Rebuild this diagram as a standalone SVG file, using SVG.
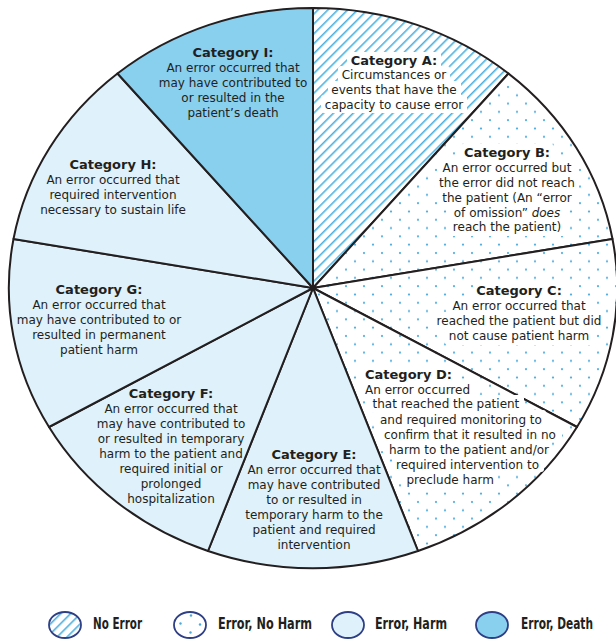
<svg xmlns="http://www.w3.org/2000/svg" width="616" height="641" viewBox="0 0 616 641">
<style>
.sec{stroke:#231f20;stroke-width:2;stroke-linejoin:round}
.t{font-family:'DejaVu Sans','Liberation Sans',sans-serif;font-size:12px;fill:#231f20;text-anchor:middle}
.l{text-anchor:start}
.h{font-weight:bold;font-size:13px}
.ko{fill:#ffffff}
.lg{font-family:'DejaVu Sans Condensed','DejaVu Sans',sans-serif;font-weight:bold;font-size:15px;fill:#231f20}
.lc{stroke:#2e3f86;stroke-width:1.8}
.harm{fill:#dff1fa}
.death{fill:#89cfee}
</style>
<defs>
<pattern id="hatch" patternUnits="userSpaceOnUse" width="7" height="7" patternTransform="rotate(45)">
<rect x="0" y="0" width="7" height="7" fill="#ffffff"/>
<rect x="0" y="0" width="1.6" height="7" fill="#4fb2e0"/>
</pattern>
<pattern id="dots" patternUnits="userSpaceOnUse" width="18" height="16.6">
<rect x="0" y="0" width="18" height="16.6" fill="#ffffff"/>
<circle cx="4" cy="4" r="1.1" fill="#4aaadd"/>
<circle cx="13" cy="12.3" r="1.1" fill="#4aaadd"/>
</pattern>
</defs>
<g id="pie">
<g id="catA">
<path class="sec" fill="url(#hatch)" d="M313,288 L313,8 A304,280 0 0 1 508.5,73.5 Z"/>
<rect class="ko" x="347" y="52" width="94" height="17" rx="3"/>
<rect class="ko" x="338" y="66" width="112" height="17" rx="3"/>
<rect class="ko" x="328" y="81" width="133" height="17" rx="3"/>
<rect class="ko" x="321" y="95" width="146" height="18" rx="3"/>
<text class="t h" x="394" y="65">Category A:</text>
<text class="t" x="394" y="79">Circumstances or</text>
<text class="t" x="394" y="94">events that have the</text>
<text class="t" x="394" y="108.5">capacity to cause error</text>
</g>
<g id="catB">
<path class="sec" fill="url(#dots)" d="M313,288 L508.5,73.5 A304,280 0 0 1 612.5,239 Z"/>
<rect class="ko" x="460" y="144" width="94" height="17" rx="3"/>
<rect class="ko" x="438" y="159" width="138" height="17" rx="3"/>
<rect class="ko" x="435" y="174" width="144" height="17" rx="3"/>
<rect class="ko" x="439" y="189" width="135" height="17" rx="3"/>
<rect class="ko" x="451" y="203" width="113" height="17" rx="3"/>
<rect class="ko" x="448" y="218" width="118" height="18" rx="3"/>
<text class="t h" x="507" y="157">Category B:</text>
<text class="t" x="507" y="172">An error occurred but</text>
<text class="t" x="507" y="187">the error did not reach</text>
<text class="t" x="507" y="202">the patient (An “error</text>
<text class="t" x="507" y="216.5">of omission” <tspan font-style="italic">does</tspan></text>
<text class="t" x="507" y="231">reach the patient)</text>
</g>
<g id="catC">
<path class="sec" fill="url(#dots)" d="M313,288 L612.5,239 A304,280 0 0 1 577,427 Z"/>
<rect class="ko" x="473" y="282" width="92" height="17" rx="3"/>
<rect class="ko" x="448" y="297" width="142" height="17" rx="3"/>
<rect class="ko" x="432" y="312" width="174" height="17" rx="3"/>
<rect class="ko" x="445" y="327" width="148" height="18" rx="3"/>
<text class="t h" x="519" y="295">Category C:</text>
<text class="t" x="519" y="310">An error occurred that</text>
<text class="t" x="519" y="325">reached the patient but did</text>
<text class="t" x="519" y="340">not cause patient harm</text>
</g>
<g id="catD">
<path class="sec" fill="url(#dots)" d="M313,288 L577,427 A304,280 0 0 1 418,551 Z"/>
<rect class="ko" x="361" y="365" width="95" height="17" rx="3"/>
<rect class="ko" x="361" y="380" width="113" height="17" rx="3"/>
<rect class="ko" x="368" y="395" width="156" height="17" rx="3"/>
<rect class="ko" x="376" y="410" width="170" height="17" rx="3"/>
<rect class="ko" x="380" y="425" width="182" height="17" rx="3"/>
<rect class="ko" x="385" y="440" width="167" height="17" rx="3"/>
<rect class="ko" x="392" y="455" width="152" height="17" rx="3"/>
<rect class="ko" x="402" y="470" width="95" height="18" rx="3"/>
<text class="t l h" x="365" y="378.5">Category D:</text>
<text class="t l" x="365" y="393.5">An error occurred</text>
<text class="t l" x="372.5" y="408">that reached the patient</text>
<text class="t l" x="380" y="423.5">and required monitoring to</text>
<text class="t l" x="384" y="438.5">confirm that it resulted in no</text>
<text class="t l" x="389" y="453.5">harm to the patient and/or</text>
<text class="t l" x="396" y="468.5">required intervention to</text>
<text class="t l" x="406.5" y="483.5">preclude harm</text>
</g>
<g id="catE">
<path class="sec harm" d="M313,288 L418,551 A304,280 0 0 1 208,551 Z"/>
<text class="t h" x="314" y="459">Category E:</text>
<text class="t" x="314" y="474">An error occurred that</text>
<text class="t" x="314" y="489">may have contributed</text>
<text class="t" x="314" y="504">to or resulted in</text>
<text class="t" x="314" y="519">temporary harm to the</text>
<text class="t" x="314" y="534">patient and required</text>
<text class="t" x="314" y="549">intervention</text>
</g>
<g id="catF">
<path class="sec harm" d="M313,288 L208,551 A304,280 0 0 1 49,427 Z"/>
<text class="t h" x="171" y="398">Category F:</text>
<text class="t" x="171" y="413">An error occurred that</text>
<text class="t" x="171" y="428">may have contributed to</text>
<text class="t" x="171" y="443">or resulted in temporary</text>
<text class="t" x="171" y="458">harm to the patient and</text>
<text class="t" x="171" y="473">required initial or</text>
<text class="t" x="171" y="488">prolonged</text>
<text class="t" x="171" y="503">hospitalization</text>
</g>
<g id="catG">
<path class="sec harm" d="M313,288 L49,427 A304,280 0 0 1 13.5,239 Z"/>
<text class="t h" x="99" y="294">Category G:</text>
<text class="t" x="99" y="309">An error occurred that</text>
<text class="t" x="99" y="324">may have contributed to or</text>
<text class="t" x="99" y="339">resulted in permanent</text>
<text class="t" x="99" y="354">patient harm</text>
</g>
<g id="catH">
<path class="sec harm" d="M313,288 L13.5,239 A304,280 0 0 1 117.5,73.5 Z"/>
<text class="t h" x="113" y="168.5">Category H:</text>
<text class="t" x="113" y="183.5">An error occurred that</text>
<text class="t" x="113" y="198.5">required intervention</text>
<text class="t" x="113" y="213.5">necessary to sustain life</text>
</g>
<g id="catI">
<path class="sec death" d="M313,288 L117.5,73.5 A304,280 0 0 1 313,8 Z"/>
<text class="t h" x="233" y="57">Category I:</text>
<text class="t" x="233" y="72">An error occurred that</text>
<text class="t" x="233" y="86.5">may have contributed to</text>
<text class="t" x="233" y="101.5">or resulted in the</text>
<text class="t" x="233" y="116.5">patient’s death</text>
</g>
</g>
<g id="connectors"></g>
<g id="legend">
<g id="leg-noerror">
<ellipse class="lc" cx="65" cy="625" rx="16" ry="13" fill="url(#hatch)"/>
<text class="lg" x="93" y="629" textLength="49" lengthAdjust="spacingAndGlyphs">No Error</text>
</g>
<g id="leg-errornoharm">
<ellipse class="lc" cx="190" cy="625" rx="16" ry="13" fill="#ffffff"/>
<circle cx="191" cy="615.5" r="1.2" fill="#4aaadd"/>
<circle cx="180.5" cy="623.5" r="1.2" fill="#4aaadd"/>
<circle cx="200" cy="624.5" r="1.2" fill="#4aaadd"/>
<circle cx="190.5" cy="632.5" r="1.2" fill="#4aaadd"/>
<text class="lg" x="218" y="629" textLength="94" lengthAdjust="spacingAndGlyphs">Error, No Harm</text>
</g>
<g id="leg-errorharm">
<ellipse class="lc harm" cx="348" cy="625" rx="16" ry="13"/>
<text class="lg" x="375" y="629" textLength="72" lengthAdjust="spacingAndGlyphs">Error, Harm</text>
</g>
<g id="leg-errordeath">
<ellipse class="lc death" cx="492" cy="625" rx="16" ry="13"/>
<text class="lg" x="521" y="629" textLength="72" lengthAdjust="spacingAndGlyphs">Error, Death</text>
</g>
</g>
</svg>
